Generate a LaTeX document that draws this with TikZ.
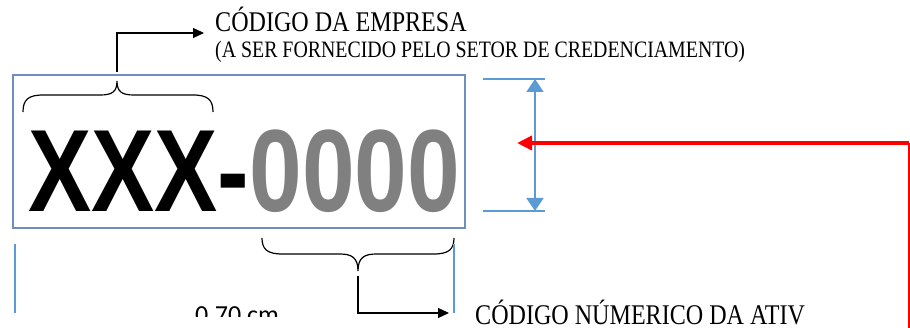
\documentclass[tikz,border=0pt]{standalone}
\usepackage{fontspec}
\usetikzlibrary{arrows.meta}
\newfontfamily\labelfont[FakeStretch=0.845]{Liberation Serif}
\newfontfamily\codefont[FakeStretch=0.81]{Liberation Sans}
\newfontfamily\dimfont{Carlito}
\definecolor{boxblue}{RGB}{109,142,191}
\definecolor{dimblue}{RGB}{91,155,213}
\definecolor{codegray}{RGB}{128,128,128}
\tikzset{
  brace/.style={black,line width=1.2pt},
  callout/.style={black,line width=1.2pt,-{Triangle[length=11pt,width=10pt]}},
  dimline/.style={dimblue,line width=1.8pt},
  lbl/.style={anchor=base west,inner sep=0pt,font=\labelfont\fontsize{28.5}{30}\selectfont}
}
\begin{document}
\begin{tikzpicture}[x=1pt,y=-1pt]
    \useasboundingbox (0,0) rectangle (910,328);
    % code box
    \draw[boxblue,line width=1.5pt] (13,75) rectangle (465,228);
    \node[anchor=base west,inner sep=0pt,font=\codefont\bfseries\fontsize{117}{117}\selectfont] (code) at (28,212)
      {XXX-\textcolor{codegray}{0000}};
    % braces
    \coordinate (T) at (117,81);
    \coordinate (B) at (358,271);
    \draw[brace] (23,112) .. controls (23,100) and (28,95) .. (43,95) -- (100,95)
      .. controls (112,95) and (117,92) .. (T) .. controls (117,92) and (122,95) .. (134,95)
      -- (193,95) .. controls (208,95) and (213,100) .. (213,112);
    \draw[brace] (262,238) .. controls (262,249) and (267,254) .. (282,254) -- (340,254)
      .. controls (352,254) and (358,258) .. (B) .. controls (358,258) and (364,254) .. (376,254)
      -- (434,254) .. controls (449,254) and (454,249) .. (454,238);
    % labels
    \coordinate (Ttop) at (117,72);
    \coordinate (Tend) at (204,33);
    \coordinate (Bbot) at (358,276);
    \coordinate (Bend) at (449,313);
    \draw[callout] (Ttop) |- (Tend);
    \draw[callout] (Bbot) |- (Bend);
    \node[lbl] (emp) at (215,32) {CÓDIGO DA EMPRESA};
    \node[lbl,font=\labelfont\fontsize{23.5}{25}\selectfont] (emp2) at (215,58) {(A SER FORNECIDO PELO SETOR DE CREDENCIAMENTO)};
    \node[lbl] (ativ) at (475,325) {CÓDIGO NÚMERICO DA ATIV};
    % height dimension
    \draw[dimline] (483,79) -- (545,79);
    \draw[dimline] (483,211) -- (545,211);
    \coordinate (H1) at (535,79);
    \coordinate (H2) at (535,211);
    \draw[dimline,{Triangle[length=13pt,width=17pt]}-{Triangle[length=13pt,width=17pt]}] (H1) -- (H2);
    % red pointer
    \coordinate (R0) at (909,328);
    \coordinate (R1) at (909,143);
    \coordinate (Rtip) at (517,143);
    \draw[red,line width=1.5pt] (R0) -- (R1);
    \draw[red,line width=4pt,-{Triangle[length=15pt,width=14pt]}] (R1) -- (Rtip);
    % width dimension (cut off)
    \draw[dimline] (15,244) -- (15,313);
    \draw[dimline] (454,244) -- (454,313);
    \begin{scope}
      \clip (150,290) rectangle (320,317);
      \node[anchor=base west,inner sep=0pt,font=\dimfont\fontsize{26}{26}\selectfont] (wd) at (195,324) {0,70 cm};
    \end{scope}
\end{tikzpicture}
\end{document}
